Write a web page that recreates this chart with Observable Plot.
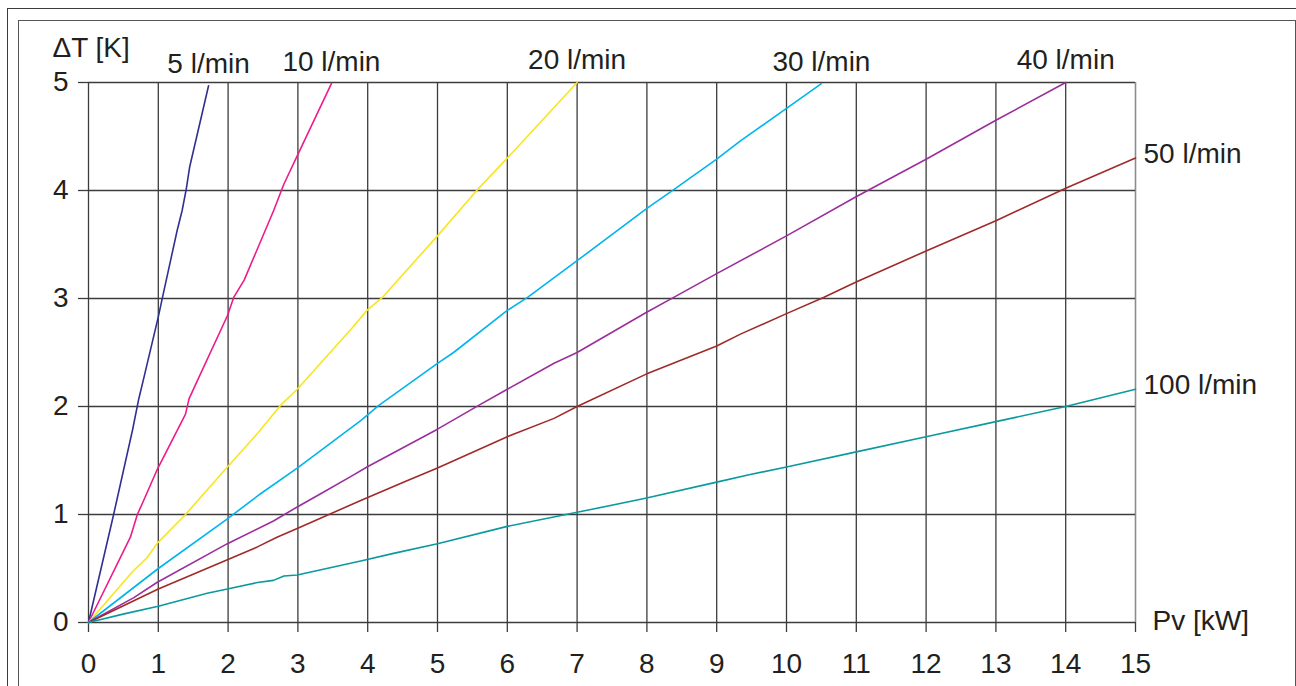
<!DOCTYPE html>
<html>
<head>
<meta charset="utf-8">
<script src="https://cdn.jsdelivr.net/npm/d3@7"></script>
<script src="https://cdn.jsdelivr.net/npm/@observablehq/plot@0.6"></script>
<style>
  html, body { margin: 0; padding: 0; background: #fff; }
  #wrap { position: relative; width: 1296px; height: 686px; overflow: hidden; }
  .frame { position: absolute; border: 1.5px solid #3a3a3a; box-sizing: border-box; }
  #outer { left: 7px; top: 8px; width: 1400px; height: 800px; }
  #inner { left: 18px; top: 20px; width: 1278px; height: 800px; border-color: #555; }
  #chart { position: absolute; left: 0; top: 0; }
</style>
</head>
<body>
<div id="wrap">
  <div id="outer" class="frame"></div>
  <div id="inner" class="frame"></div>
  <div id="chart"></div>
</div>
<script>
// Series: [Pv kW, ΔT K]
const flow5 = [[0,0],[0.36,1.0],[0.63,1.78],[0.72,2.07],[0.78,2.23],[1.0,2.83],[1.06,3.01],[1.27,3.63],[1.34,3.81],[1.40,4.01],[1.45,4.22],[1.72,4.97]];
const flow10 = [[0,0],[0.6,0.79],[0.70,1.0],[0.79,1.13],[0.98,1.41],[1.39,1.93],[1.44,2.07],[1.56,2.24],[1.99,2.84],[2.08,3.01],[2.23,3.17],[2.65,3.81],[2.80,4.06],[2.99,4.32],[3.48,4.99]];
const flow20 = [[0,0],[0.63,0.47],[0.84,0.60],[0.98,0.73],[1.39,1.0],[1.99,1.44],[2.42,1.75],[2.75,2.01],[2.99,2.16],[3.78,2.73],[3.99,2.89],[4.21,3.01],[5.0,3.58],[5.59,4.02],[6.0,4.30],[7.0,5.0]];
const flow30 = [[0,0],[1.0,0.50],[1.99,0.96],[2.46,1.19],[2.99,1.43],[3.90,1.87],[4.16,2.01],[5.0,2.40],[5.23,2.50],[6.0,2.89],[6.29,3.01],[7.0,3.35],[7.99,3.83],[8.41,4.02],[9.0,4.29],[9.34,4.46],[10.0,4.76],[10.5,4.99]];
const flow40 = [[0,0],[0.65,0.23],[0.98,0.37],[1.99,0.73],[2.65,0.94],[2.99,1.07],[3.32,1.19],[3.78,1.36],[3.99,1.44],[5.0,1.79],[5.59,2.01],[6.0,2.16],[6.67,2.40],[7.0,2.50],[7.99,2.87],[8.41,3.02],[9.0,3.23],[10.0,3.58],[10.99,3.94],[12.0,4.29],[13.0,4.65],[14.0,5.0]];
const flow50 = [[0,0],[1.0,0.31],[1.99,0.58],[2.42,0.70],[2.70,0.79],[2.99,0.87],[3.90,1.13],[4.52,1.30],[5.0,1.43],[6.0,1.72],[6.67,1.89],[7.0,2.0],[7.99,2.30],[9.0,2.56],[9.34,2.67],[10.0,2.86],[10.53,3.01],[10.99,3.15],[12.0,3.44],[13.0,3.72],[14.0,4.02],[15.0,4.30]];
const flow100 = [[0,0],[0.51,0.08],[1.0,0.15],[1.70,0.27],[1.99,0.31],[2.42,0.37],[2.65,0.39],[2.80,0.43],[2.99,0.44],[3.90,0.57],[4.37,0.64],[5.0,0.73],[6.0,0.89],[7.0,1.02],[7.98,1.15],[9.0,1.30],[9.48,1.37],[10.0,1.44],[11.0,1.58],[12.0,1.72],[13.0,1.86],[14.0,2.0],[15.0,2.16]];

const seriesNames = ["5 l/min","10 l/min","20 l/min","30 l/min","40 l/min","50 l/min","100 l/min"];
const seriesData = [flow5, flow10, flow20, flow30, flow40, flow50, flow100];
const seriesColors = ["#2e3192","#ec1c8c","#f7e61c","#00b4ec","#9a2f9c","#a02a2a","#0a9a9e"];
const xTicks = [0,1,2,3,4,5,6,7,8,9,10,11,12,13,14,15];
const yTicks = [0,1,2,3,4,5];
const yTitle = "ΔT [K]";
const xTitle = "Pv [kW]";

const rows = seriesData.flatMap((s, i) => s.map(([x, y]) => ({series: seriesNames[i], x, y})));
const ends = seriesData.map((s, i) => ({series: seriesNames[i], x: s[s.length-1][0], y: s[s.length-1][1]}));
const topEnds = ends.filter(d => d.x < 14.9);
const rightEnds = ends.filter(d => d.x >= 14.9);

const ink = "#231f20";
const plot = Plot.plot({
  width: 1296,
  height: 686,
  marginLeft: 88,
  marginRight: 161,
  marginTop: 82,
  marginBottom: 64,
  style: {fontFamily: "'Liberation Sans', Arial, sans-serif", fontSize: "28px", color: ink, background: "transparent", overflow: "visible"},
  x: {domain: [0, 15], ticks: xTicks},
  y: {domain: [0, 5], ticks: yTicks},
  color: {domain: seriesNames, range: seriesColors},
  marks: [
    Plot.gridX(xTicks.slice(0, -1), {stroke: "#3c3c3c", strokeOpacity: 1, strokeWidth: 1.3}),
    Plot.gridX([15], {stroke: "#8a8c8e", strokeOpacity: 1, strokeWidth: 1.6}),
    Plot.gridY(yTicks, {stroke: "#3c3c3c", strokeOpacity: 1, strokeWidth: 1.3}),
    Plot.axisX(xTicks, {tickSize: 10, tickPadding: 21, tickFormat: d => String(d), stroke: "#3c3c3c", strokeWidth: 1.3, fontSize: 28, fill: ink, label: null}),
    Plot.axisY(yTicks, {tickSize: 10, tickPadding: 10, tickFormat: d => String(d), stroke: "#3c3c3c", strokeWidth: 1.3, fontSize: 28, fill: ink, label: null}),
    Plot.line(rows, {x: "x", y: "y", z: "series", stroke: "series", strokeWidth: 1.6}),
    Plot.text(topEnds, {x: "x", y: "y", text: "series", dy: -22, fill: ink, fontSize: 28}),
    Plot.text(rightEnds, {x: "x", y: "y", text: "series", dx: 8, dy: -4, textAnchor: "start", fill: ink, fontSize: 28}),
    Plot.text([yTitle], {frameAnchor: "top-left", text: d => d, dx: -36, dy: -34, textAnchor: "start", lineAnchor: "middle", fill: ink, fontSize: 28}),
    Plot.text([xTitle], {frameAnchor: "bottom-right", text: d => d, dx: 17, dy: -1, textAnchor: "start", lineAnchor: "middle", fill: ink, fontSize: 28})
  ]
});
document.getElementById("chart").appendChild(plot);
</script>
</body>
</html>
